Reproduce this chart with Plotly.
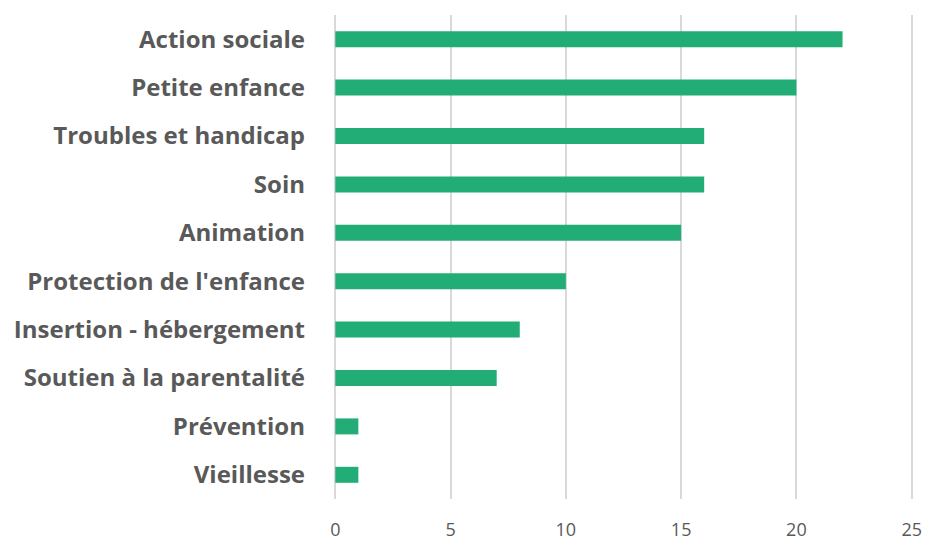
import plotly.graph_objects as go

categories = ["Action sociale", "Petite enfance", "Troubles et handicap", "Soin", "Animation",
              "Protection de l'enfance", "Insertion - hébergement", "Soutien à la parentalité",
              "Prévention", "Vieillesse"]
values = [22, 20, 16, 16, 15, 10, 8, 7, 1, 1]
tick_vals = [0, 5, 10, 15, 20, 25]

fig = go.Figure(go.Bar(
    y=categories, x=values, orientation="h",
    marker=dict(color="#21AD75", line=dict(width=0)),
    width=0.33,
))

fig.update_layout(
    width=926, height=540,
    margin=dict(l=333, r=12, t=15, b=41),
    plot_bgcolor="white", paper_bgcolor="white",
    showlegend=False,
    font=dict(family="Open Sans", color="#595959"),
)
fig.update_yaxes(
    categoryorder="array", categoryarray=categories, autorange="reversed",
    showgrid=False, showline=False, zeroline=False, automargin=False,
    tickfont=dict(family="Open Sans", size=24, color="#595959", weight="bold"),
    ticklabelstandoff=27, ticks="",
)
fig.update_xaxes(
    range=[-0.1, 25.1], tickvals=tick_vals,
    showgrid=True, gridcolor="#D9D9D9", gridwidth=1.5,
    zeroline=False, showline=False, automargin=False,
    tickfont=dict(family="Open Sans", size=18, color="#595959"),
    ticklabelstandoff=18, ticks="",
)
fig.write_html("out.html", config={"displayModeBar": False},
               post_script="document.body.style.margin='0';document.body.style.overflow='hidden';")
